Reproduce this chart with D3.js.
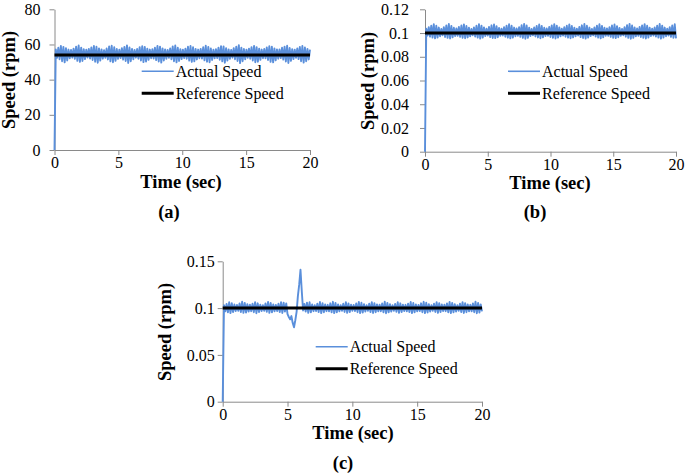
<!DOCTYPE html>
<html><head><meta charset="utf-8">
<script src="https://cdn.jsdelivr.net/npm/d3@7"></script>
<style>body{margin:0;background:#fff} svg{display:block}</style>
</head><body>
<script>
const xTicks = [0, 5, 10, 15, 20];
const yTicksA = [0, 20, 40, 60, 80];
const yTicksB = [0, 0.02, 0.04, 0.06, 0.08, 0.1, 0.12];
const yTicksC = [0, 0.05, 0.1, 0.15];
const refA = 54, refB = 0.1, refC = 0.1;
const legendLabels = ["Actual Speed", "Reference Speed"];
const panelLabels = ["(a)", "(b)", "(c)"];
const xTitle = "Time (sec)", yTitle = "Speed (rpm)";

const actualA = [0,
57.2,52.4,58.1,51.6,59.2,50.5,58.6,49.8,57.9,50.9,57.1,52.1,
56.9,52.5,57.6,51.8,58.8,50.7,59.4,50.1,58.2,50.6,57.3,51.7,
57.0,52.6,57.5,52.0,58.3,51.2,59.1,50.2,58.7,49.6,57.8,50.8,
57.2,51.9,56.8,52.4,57.7,51.5,58.9,50.4,59.3,49.9,58.4,50.7,
57.4,51.8,57.0,52.3,57.9,51.4,58.6,50.6,59.5,49.5,58.3,50.5,
57.5,51.6,56.9,52.5,57.4,51.9,58.5,50.9,59.0,50.0,58.6,50.3,
57.6,51.3,57.1,52.2,57.3,52.0,58.2,51.1,59.2,50.3,58.8,49.7,
57.8,50.9,57.2,51.8,56.9,52.4,57.8,51.6,58.9,50.5,59.4,49.8,
58.1,50.6,57.3,51.7,57.0,52.3,57.6,51.9,58.7,50.8,59.1,50.1,
58.4,50.4,57.5,51.5,57.1,52.2,57.5,52.0,58.4,51.0,59.3,50.2,
58.6,49.9,57.7,51.2,57.0,52.1,57.3,52.3,58.2,51.3,59.0,50.4,
58.9,49.6,57.9,50.8,57.2,51.8,56.9,52.5,57.9,51.6,58.8,50.6,
59.6,49.4,58.2,50.5,57.4,51.6,57.0,52.4,57.6,51.9,58.5,50.9,
59.2,49.9,58.5,50.2,57.6,51.3,57.1,52.2,57.4,52.1,58.3,51.2,
59.0,50.1,58.7,49.8,57.8,51.0,57.2,51.9,57.2,52.3,58.1,51.4,
58.8,50.3,59.3,49.5,58.0,50.7,57.3,51.7,57.0,52.4,57.8,51.7,
58.6,50.5,59.1,49.7,58.3,50.5,57.5,51.5,57.1];

const actualB = [0,
0.1036,0.0979,0.1049,0.0969,0.1062,0.0961,0.1074,0.0955,0.1061,0.0962,0.1046,0.0973,
0.1035,0.0980,0.1050,0.0967,0.1064,0.0959,0.1076,0.0954,0.1060,0.0964,0.1044,0.0975,
0.1038,0.0977,0.1051,0.0968,0.1063,0.0960,0.1073,0.0956,0.1059,0.0963,0.1045,0.0972,
0.1034,0.0981,0.1048,0.0970,0.1061,0.0962,0.1075,0.0953,0.1062,0.0961,0.1047,0.0974,
0.1037,0.0978,0.1052,0.0966,0.1065,0.0958,0.1072,0.0957,0.1058,0.0965,0.1043,0.0976,
0.1036,0.0979,0.1049,0.0969,0.1062,0.0961,0.1074,0.0955,0.1061,0.0962,0.1046,0.0973,
0.1039,0.0976,0.1050,0.0968,0.1066,0.0959,0.1077,0.0952,0.1063,0.0960,0.1045,0.0974,
0.1035,0.0980,0.1047,0.0971,0.1060,0.0963,0.1072,0.0956,0.1060,0.0964,0.1044,0.0975,
0.1038,0.0977,0.1051,0.0967,0.1064,0.0960,0.1075,0.0954,0.1062,0.0961,0.1047,0.0972,
0.1036,0.0979,0.1049,0.0969,0.1061,0.0962,0.1073,0.0956,0.1059,0.0963,0.1045,0.0973,
0.1037,0.0978,0.1052,0.0966,0.1065,0.0958,0.1076,0.0953,0.1061,0.0962,0.1046,0.0974,
0.1034,0.0981,0.1048,0.0970,0.1062,0.0961,0.1074,0.0955,0.1060,0.0964,0.1044,0.0976,
0.1039,0.0976,0.1050,0.0968,0.1063,0.0960,0.1072,0.0957,0.1058,0.0965,0.1043,0.0977,
0.1035,0.0980,0.1049,0.0969,0.1066,0.0959,0.1077,0.0952,0.1063,0.0960,0.1047,0.0972,
0.1038,0.0977,0.1051,0.0967,0.1064,0.0960,0.1075,0.0954,0.1061,0.0962,0.1045,0.0974,
0.1036,0.0979,0.1048,0.0970,0.1062,0.0961,0.1076,0.0953,0.1062,0.0961,0.1046,0.0973,
0.1037,0.0978,0.1050,0.0968,0.1063,0.0960,0.1074,0.0955];

const actualC = [0,
0.1030,0.0965,0.1045,0.0955,0.1062,0.0946,0.1052,0.0957,0.1038,0.0968,
0.1033,0.0970,0.1050,0.0958,0.1068,0.0949,0.1056,0.0953,0.1041,0.0964,
0.1036,0.0967,0.1047,0.0956,0.1064,0.0945,0.1051,0.0958,0.1037,0.0969,
0.1031,0.0971,0.1049,0.0960,0.1066,0.0950,0.1054,0.0955,0.1039,0.0966,
0.1034,0.0968,0.1046,0.0957,0.1063,0.0948,0.1058,0.0962,0.1050,0.0935,
0.0905,0.0880,0.0915,0.0840,0.0795,0.0870,0.0960,0.1130,0.1250,0.1410,
0.1180,0.0975,0.1045,0.0962,0.1058,0.0950,0.1062,0.0955,0.1040,0.0967,
0.1032,0.0969,0.1048,0.0957,0.1065,0.0947,0.1053,0.0956,0.1038,0.0967,
0.1035,0.0966,0.1051,0.0955,0.1067,0.0946,0.1055,0.0954,0.1040,0.0965,
0.1030,0.0972,0.1046,0.0959,0.1063,0.0949,0.1050,0.0957,0.1036,0.0970,
0.1034,0.0968,0.1049,0.0956,0.1066,0.0947,0.1057,0.0952,0.1042,0.0963,
0.1032,0.0970,0.1047,0.0958,0.1064,0.0948,0.1053,0.0956,0.1039,0.0966,
0.1036,0.0967,0.1050,0.0955,0.1068,0.0945,0.1056,0.0954,0.1041,0.0964,
0.1031,0.0971,0.1045,0.0960,0.1062,0.0950,0.1051,0.0958,0.1037,0.0969,
0.1035,0.0966,0.1048,0.0957,0.1065,0.0947,0.1054,0.0955,0.1040,0.0965,
0.1033,0.0969,0.1051,0.0956,0.1067,0.0946,0.1057,0.0953,0.1042,0.0963,
0.1030,0.0972,0.1046,0.0959,0.1063,0.0949,0.1052,0.0957,0.1038,0.0968,
0.1036,0.0967,0.1049,0.0955,0.1066,0.0947,0.1055,0.0954,0.1041,0.0964,
0.1032,0.0970,0.1047,0.0958,0.1064,0.0948,0.1053,0.0956,0.1039,0.0966,
0.1035,0.0966,0.1050,0.0956,0.1068,0.0945,0.1056,0.0953,0.1040,0.0965];

const BLUE = "#5A8FDB", AXIS = "#8a8a8a", FONT = "'Liberation Serif', 'Times New Roman', serif";

const panels = [
  {data: actualA, ref: refA, yTicks: yTicksA, yMax: 80, x0: 54.5, x1: 310, yb: 150, yt: 9.3, pad: 9,
   leg: {x: 141.7, y: 71.3}, yTitle: {x: 15, y: 80}, xTitle: {x: 181, y: 188}, label: {x: 169, y: 218}},
  {data: actualB, ref: refB, yTicks: yTicksB, yMax: 0.12, x0: 425, x1: 676, yb: 151.7, yt: 9.3, pad: 11,
   leg: {x: 508, y: 71.3}, yTitle: {x: 374, y: 81}, xTitle: {x: 550, y: 189}, label: {x: 535, y: 218}},
  {data: actualC, ref: refC, yTicks: yTicksC, yMax: 0.15, x0: 222.7, x1: 482, yb: 401.7, yt: 261.3, pad: 3,
   leg: {x: 315.7, y: 346.7}, yTitle: {x: 170.6, y: 332}, xTitle: {x: 353, y: 439}, label: {x: 343, y: 469}}
];

const svg = d3.select("body").append("svg").attr("width", 685).attr("height", 475)
  .style("font-family", FONT);

panels.forEach((p, pi) => {
  const x = d3.scaleLinear().domain([0, 20]).range([p.x0, p.x1]);
  const y = d3.scaleLinear().domain([0, p.yMax]).range([p.yb, p.yt]);
  const g = svg.append("g");

  const ya = g.append("g").attr("transform", `translate(${p.x0},0)`)
    .call(d3.axisLeft(y).tickValues(p.yTicks).tickSize(5).tickSizeOuter(0).tickPadding(p.pad).tickFormat(d => String(d)));
  const xa = g.append("g").attr("transform", `translate(0,${p.yb})`)
    .call(d3.axisBottom(x).tickValues(xTicks).tickSize(5).tickSizeOuter(0).tickPadding(2).tickFormat(d => String(d)));
  [ya, xa].forEach(a => {
    a.selectAll("path.domain").attr("stroke", AXIS).attr("stroke-width", 1);
    a.selectAll(".tick line").attr("stroke", AXIS);
    a.selectAll(".tick text").attr("fill", "#000").style("font-size", "16px").style("font-family", FONT);
  });

  const n = p.data.length;
  const line = d3.line().x((d, i) => x(i * 20 / (n - 1))).y(d => y(d));
  g.append("path").datum(p.data).attr("d", line).attr("fill", "none")
    .attr("stroke", BLUE).attr("stroke-width", 1.9).attr("stroke-linejoin", "round");

  g.append("line").attr("x1", x(0)).attr("x2", x(20)).attr("y1", y(p.ref)).attr("y2", y(p.ref))
    .attr("stroke", "#000").attr("stroke-width", 3);

  const lg = g.append("g");
  [[BLUE, 1.6], ["#000", 3]].forEach((s, i) => {
    const ly = p.leg.y + i * 22;
    lg.append("line").attr("x1", p.leg.x).attr("x2", p.leg.x + 32).attr("y1", ly).attr("y2", ly)
      .attr("stroke", s[0]).attr("stroke-width", s[1]);
    lg.append("text").attr("x", p.leg.x + 34).attr("y", ly + 5.4).style("font-size", "16px")
      .text(legendLabels[i]);
  });

  g.append("text").attr("transform", `translate(${p.yTitle.x},${p.yTitle.y}) rotate(-90)`)
    .attr("text-anchor", "middle").style("font-size", "18.5px").style("font-weight", "bold").text(yTitle);
  g.append("text").attr("x", p.xTitle.x).attr("y", p.xTitle.y)
    .attr("text-anchor", "middle").style("font-size", "18.5px").style("font-weight", "bold").text(xTitle);
  g.append("text").attr("x", p.label.x).attr("y", p.label.y)
    .attr("text-anchor", "middle").style("font-size", "18.5px").style("font-weight", "bold").text(panelLabels[pi]);
});
</script>
</body></html>
